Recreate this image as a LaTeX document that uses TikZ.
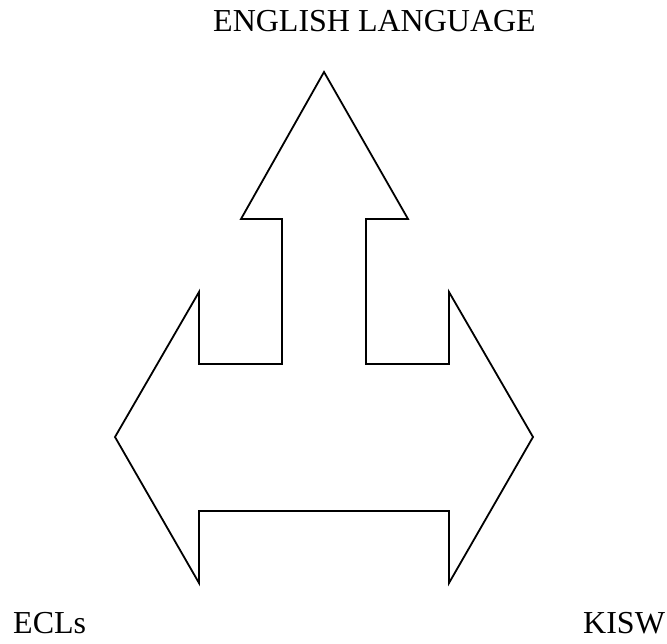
\documentclass[tikz,border=0pt]{standalone}
\usepackage{fontspec}
\setmainfont{Liberation Serif}
\begin{document}
\begin{tikzpicture}[x=1pt,y=-1pt,
  lbl/.style={inner sep=0pt,anchor=base west,font=\fontsize{32}{36}\selectfont},
  outline/.style={draw=black,line width=1.8pt,line join=miter}]
\useasboundingbox (0,0) rectangle (667,643);
\draw[outline] (324,72) -- (408,219) -- (366,219) -- (366,364) -- (449,364) -- (449,292)
  -- (533,437) -- (449,583) -- (449,511) -- (199,511) -- (199,583) -- (115,437)
  -- (199,292) -- (199,364) -- (282,364) -- (282,219) -- (241,219) -- cycle;
\node[lbl] (eng) at (213,31) {ENGLISH LANGUAGE};
\node[lbl] (ecl) at (13,633) {ECLs};
\node[lbl] (kisw) at (583,633) {KISW};
\end{tikzpicture}
\end{document}
